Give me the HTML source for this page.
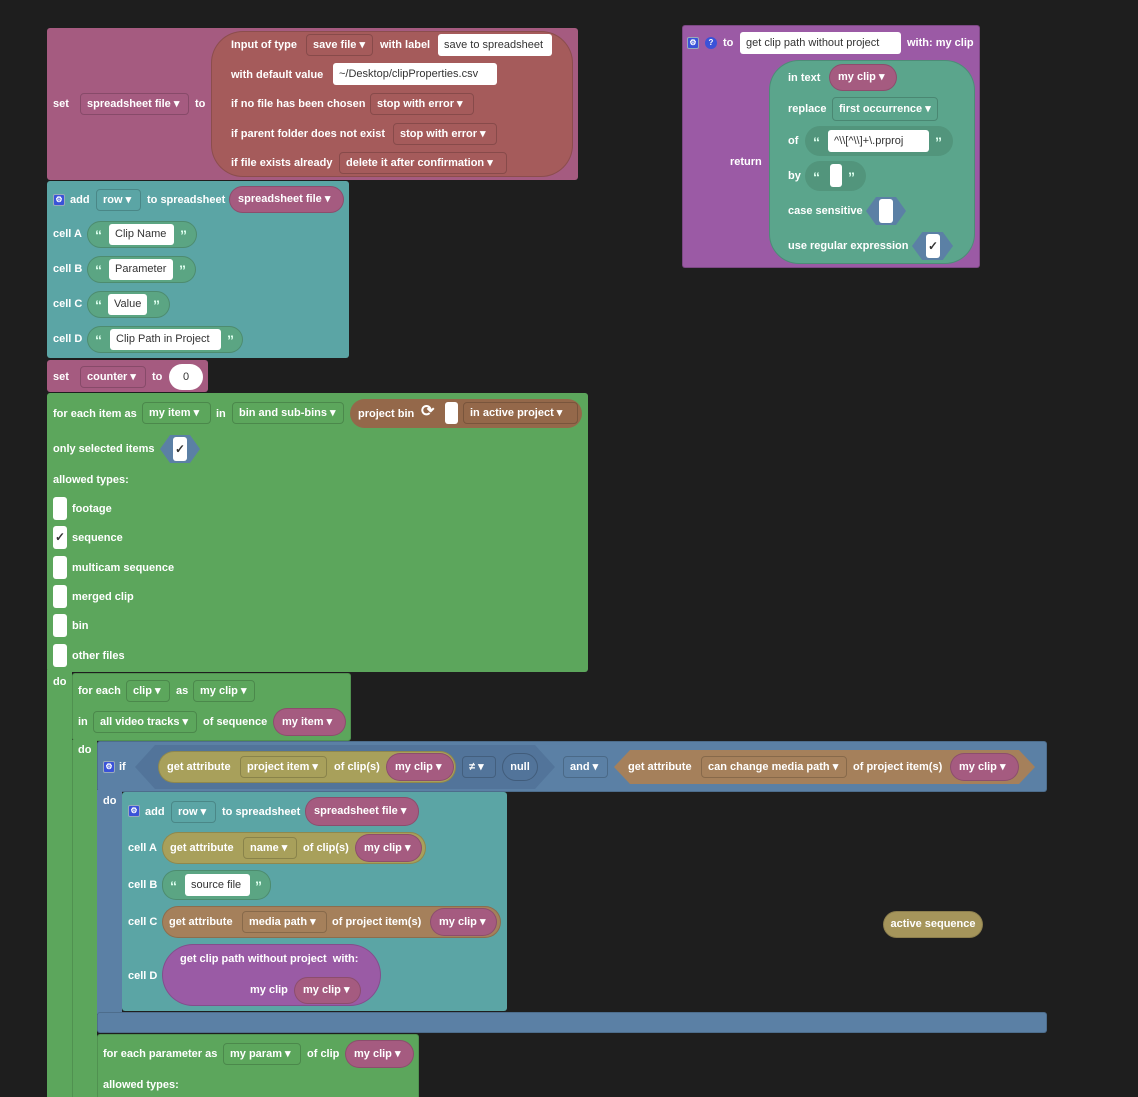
<!DOCTYPE html>
<html style="overflow:hidden;height:1097px"><head><meta charset="utf-8"><style>
body{margin:0;width:1138px;height:1097px;background:#1e1e1e;overflow:hidden;position:relative;font-family:"Liberation Sans",sans-serif;font-weight:bold;font-size:11px;color:#fff}
div{position:absolute;box-sizing:border-box}
.t{line-height:14px;white-space:nowrap}
.q{line-height:14px;font-size:14px;color:#dfe}
.dd{border:1px solid rgba(0,0,0,.18);border-radius:4px;line-height:20px;padding-left:6px;white-space:nowrap}
.wb{background:#fff;color:#333;font-weight:normal;border-radius:3px;line-height:22px;padding-left:6px;white-space:nowrap}
.pk{background:#a55b80;border:1px solid rgba(0,0,0,.15);border-radius:14px;padding-left:8px;white-space:nowrap}
.sg{background:#5ba583;border:1px solid rgba(0,0,0,.15);border-radius:14px}
.gear{width:12px;height:12px;background:#3a52d8;border-radius:2px;border:1px solid #9ab;font-size:8px;text-align:center;line-height:10px}
.cb{background:#fff;border-radius:3px;color:#333;text-align:center;font-size:12px}
</style></head><body>

<!-- set spreadsheet file -->
<div style="left:47px;top:28px;width:531px;height:152px;background:#a55b80;border-radius:3px"></div>
<div style="left:211px;top:31px;width:362px;height:146px;background:#a55b5b;border:1px solid rgba(0,0,0,.15);border-radius:32px"></div>
<div class="t" style="left:53px;top:97px">set</div>
<div class="dd" style="left:80px;top:93px;width:109px;height:22px">spreadsheet file ▾</div>
<div class="t" style="left:195px;top:97px">to</div>
<div class="t" style="left:231px;top:38px">Input of type</div>
<div class="dd" style="left:306px;top:34px;width:67px;height:22px">save file ▾</div>
<div class="t" style="left:380px;top:38px">with label</div>
<div class="wb" style="left:438px;top:34px;width:114px;height:22px">save to spreadsheet</div>
<div class="t" style="left:231px;top:68px">with default value</div>
<div class="wb" style="left:333px;top:63px;width:164px;height:22px">~/Desktop/clipProperties.csv</div>
<div class="t" style="left:231px;top:97px">if no file has been chosen</div>
<div class="dd" style="left:370px;top:93px;width:104px;height:22px">stop with error ▾</div>
<div class="t" style="left:231px;top:127px">if parent folder does not exist</div>
<div class="dd" style="left:393px;top:123px;width:104px;height:22px">stop with error ▾</div>
<div class="t" style="left:231px;top:156px">if file exists already</div>
<div class="dd" style="left:339px;top:152px;width:168px;height:22px">delete it after confirmation ▾</div>

<!-- add row -->
<div style="left:47px;top:181px;width:302px;height:177px;background:#5ba5a5;border-radius:3px"></div>
<div class="gear" style="left:53px;top:194px">⚙</div>
<div class="t" style="left:70px;top:193px">add</div>
<div class="dd" style="left:96px;top:189px;width:45px;height:22px">row ▾</div>
<div class="t" style="left:147px;top:193px">to spreadsheet</div>
<div class="pk" style="left:229px;top:186px;width:115px;height:27px;line-height:25px">spreadsheet file ▾</div>
<div class="t" style="left:53px;top:227px">cell A</div>
<div class="sg" style="left:87px;top:221px;width:110px;height:27px"></div>
<div class="q" style="left:95px;top:228px">“</div><div class="wb" style="left:109px;top:224px;width:65px;height:21px;line-height:21px">Clip Name</div><div class="q" style="left:180px;top:228px">”</div>
<div class="t" style="left:53px;top:262px">cell B</div>
<div class="sg" style="left:87px;top:256px;width:109px;height:27px"></div>
<div class="q" style="left:95px;top:263px">“</div><div class="wb" style="left:109px;top:259px;width:64px;height:21px;line-height:21px">Parameter</div><div class="q" style="left:179px;top:263px">”</div>
<div class="t" style="left:53px;top:297px">cell C</div>
<div class="sg" style="left:87px;top:291px;width:83px;height:27px"></div>
<div class="q" style="left:95px;top:298px">“</div><div class="wb" style="left:108px;top:294px;width:39px;height:21px;line-height:21px">Value</div><div class="q" style="left:153px;top:298px">”</div>
<div class="t" style="left:53px;top:332px">cell D</div>
<div class="sg" style="left:87px;top:326px;width:156px;height:27px"></div>
<div class="q" style="left:95px;top:333px">“</div><div class="wb" style="left:110px;top:329px;width:111px;height:21px;line-height:21px">Clip Path in Project</div><div class="q" style="left:227px;top:333px">”</div>

<!-- set counter -->
<div style="left:47px;top:360px;width:161px;height:32px;background:#a55b80;border-radius:3px"></div>
<div class="t" style="left:53px;top:370px">set</div>
<div class="dd" style="left:80px;top:366px;width:66px;height:22px">counter ▾</div>
<div class="t" style="left:152px;top:370px">to</div>
<div style="left:169px;top:364px;width:34px;height:26px;background:#fff;border-radius:13px;color:#333;text-align:center;line-height:26px;font-weight:normal">0</div>

<!-- for each item -->
<div style="left:47px;top:393px;width:541px;height:279px;background:#5ca65c;border-radius:3px"></div>
<div style="left:47px;top:670px;width:25px;height:427px;background:#5ca65c"></div>
<div class="t" style="left:53px;top:407px">for each item as</div>
<div class="dd" style="left:142px;top:402px;width:69px;height:22px">my item ▾</div>
<div class="t" style="left:216px;top:407px">in</div>
<div class="dd" style="left:232px;top:402px;width:112px;height:22px">bin and sub-bins ▾</div>
<div style="left:350px;top:399px;width:232px;height:29px;background:#94684a;border-radius:15px"></div>
<div class="t" style="left:358px;top:407px">project bin</div>
<div class="t" style="left:421px;top:403px;font-size:16px;line-height:18px">⟳</div>
<div class="cb" style="left:445px;top:402px;width:13px;height:22px"></div>
<div class="dd" style="left:463px;top:402px;width:115px;height:22px">in active project ▾</div>
<div class="t" style="left:53px;top:442px">only selected items</div>
<div style="left:160px;top:435px;width:40px;height:28px;background:#5b80a5;clip-path:polygon(25% 0,75% 0,100% 50%,75% 100%,25% 100%,0 50%)"></div>
<div class="cb" style="left:173px;top:437px;width:14px;height:24px;line-height:24px">✓</div>
<div class="t" style="left:53px;top:473px">allowed types:</div>
<div class="cb" style="left:53px;top:497px;width:14px;height:23px"></div><div class="t" style="left:72px;top:502px">footage</div>
<div class="cb" style="left:53px;top:526px;width:14px;height:23px;line-height:23px">✓</div><div class="t" style="left:72px;top:531px">sequence</div>
<div class="cb" style="left:53px;top:556px;width:14px;height:23px"></div><div class="t" style="left:72px;top:561px">multicam sequence</div>
<div class="cb" style="left:53px;top:585px;width:14px;height:23px"></div><div class="t" style="left:72px;top:590px">merged clip</div>
<div class="cb" style="left:53px;top:614px;width:14px;height:23px"></div><div class="t" style="left:72px;top:619px">bin</div>
<div class="cb" style="left:53px;top:644px;width:14px;height:23px"></div><div class="t" style="left:72px;top:649px">other files</div>
<div class="t" style="left:53px;top:675px">do</div>

<!-- for each clip -->
<div style="left:72px;top:673px;width:279px;height:68px;background:#5ca65c;border:1px solid rgba(0,0,0,.12);border-radius:3px"></div>
<div style="left:72px;top:740px;width:25px;height:357px;background:#5ca65c;border-left:1px solid rgba(0,0,0,.12)"></div>
<div class="t" style="left:78px;top:684px">for each</div>
<div class="dd" style="left:126px;top:680px;width:44px;height:22px">clip ▾</div>
<div class="t" style="left:176px;top:684px">as</div>
<div class="dd" style="left:193px;top:680px;width:62px;height:22px">my clip ▾</div>
<div class="t" style="left:78px;top:715px">in</div>
<div class="dd" style="left:93px;top:711px;width:104px;height:22px">all video tracks ▾</div>
<div class="t" style="left:203px;top:715px">of sequence</div>
<div class="pk" style="left:273px;top:708px;width:73px;height:28px;line-height:26px">my item ▾</div>
<div class="t" style="left:78px;top:743px">do</div>

<!-- if block -->
<div style="left:97px;top:741px;width:950px;height:51px;background:#5b80a5;border:1px solid rgba(0,0,0,.15);border-radius:3px"></div>
<div style="left:97px;top:790px;width:25px;height:224px;background:#5b80a5"></div>
<div style="left:97px;top:1012px;width:950px;height:21px;background:#5b80a5;border:1px solid rgba(0,0,0,.15);border-radius:3px"></div>
<div class="gear" style="left:103px;top:761px">⚙</div>
<div class="t" style="left:119px;top:760px">if</div>
<div style="left:135px;top:745px;width:420px;height:44px;background:#52749a;clip-path:polygon(20px 0,400px 0,420px 50%,400px 100%,20px 100%,0 50%)"></div>
<div style="left:158px;top:751px;width:298px;height:32px;background:#a8a05b;border:1px solid rgba(0,0,0,.15);border-radius:16px"></div>
<div class="t" style="left:167px;top:760px">get attribute</div>
<div class="dd" style="left:240px;top:756px;width:87px;height:22px">project item ▾</div>
<div class="t" style="left:334px;top:760px">of clip(s)</div>
<div class="pk" style="left:386px;top:753px;width:68px;height:28px;line-height:26px">my clip ▾</div>
<div class="dd" style="left:462px;top:756px;width:34px;height:22px">≠ ▾</div>
<div style="left:502px;top:753px;width:36px;height:28px;border:1px solid rgba(0,0,0,.2);border-radius:14px;text-align:center;line-height:26px">null</div>
<div class="dd" style="left:563px;top:756px;width:45px;height:22px">and ▾</div>
<div style="left:614px;top:750px;width:421px;height:34px;background:#a5805b;clip-path:polygon(16px 0,405px 0,421px 50%,405px 100%,16px 100%,0 50%)"></div>
<div class="t" style="left:628px;top:760px">get attribute</div>
<div class="dd" style="left:701px;top:756px;width:146px;height:22px">can change media path ▾</div>
<div class="t" style="left:853px;top:760px">of project item(s)</div>
<div class="pk" style="left:950px;top:753px;width:69px;height:28px;line-height:26px">my clip ▾</div>
<div class="t" style="left:103px;top:794px">do</div>

<!-- inner add row -->
<div style="left:122px;top:792px;width:385px;height:219px;background:#5ba5a5;border-radius:3px"></div>
<div class="gear" style="left:128px;top:805px">⚙</div>
<div class="t" style="left:145px;top:805px">add</div>
<div class="dd" style="left:171px;top:801px;width:45px;height:22px">row ▾</div>
<div class="t" style="left:222px;top:805px">to spreadsheet</div>
<div class="pk" style="left:305px;top:797px;width:114px;height:29px;line-height:27px">spreadsheet file ▾</div>
<div class="t" style="left:128px;top:841px">cell A</div>
<div style="left:162px;top:832px;width:264px;height:32px;background:#a8a05b;border:1px solid rgba(0,0,0,.15);border-radius:16px"></div>
<div class="t" style="left:170px;top:841px">get attribute</div>
<div class="dd" style="left:243px;top:837px;width:54px;height:22px">name ▾</div>
<div class="t" style="left:303px;top:841px">of clip(s)</div>
<div class="pk" style="left:355px;top:834px;width:67px;height:28px;line-height:26px">my clip ▾</div>
<div class="t" style="left:128px;top:878px">cell B</div>
<div class="sg" style="left:162px;top:870px;width:109px;height:30px"></div>
<div class="q" style="left:170px;top:879px">“</div><div class="wb" style="left:185px;top:874px;width:65px;height:22px">source file</div><div class="q" style="left:255px;top:879px">”</div>
<div class="t" style="left:128px;top:915px">cell C</div>
<div style="left:162px;top:906px;width:339px;height:32px;background:#a5805b;border:1px solid rgba(0,0,0,.15);border-radius:16px"></div>
<div class="t" style="left:169px;top:915px">get attribute</div>
<div class="dd" style="left:242px;top:911px;width:85px;height:22px">media path ▾</div>
<div class="t" style="left:332px;top:915px">of project item(s)</div>
<div class="pk" style="left:430px;top:908px;width:67px;height:28px;line-height:26px">my clip ▾</div>
<div class="t" style="left:128px;top:969px">cell D</div>
<div style="left:162px;top:944px;width:219px;height:62px;background:#9a5ba5;border:1px solid rgba(0,0,0,.15);border-radius:31px"></div>
<div class="t" style="left:180px;top:952px">get clip path without project&nbsp; with:</div>
<div class="t" style="left:250px;top:983px">my clip</div>
<div class="pk" style="left:294px;top:977px;width:67px;height:27px;line-height:25px">my clip ▾</div>

<!-- for each parameter -->
<div style="left:97px;top:1034px;width:322px;height:63px;background:#5ca65c;border:1px solid rgba(0,0,0,.12);border-bottom:none;border-radius:3px 3px 0 0"></div>
<div class="t" style="left:103px;top:1047px">for each parameter as</div>
<div class="dd" style="left:223px;top:1043px;width:78px;height:22px">my param ▾</div>
<div class="t" style="left:307px;top:1047px">of clip</div>
<div class="pk" style="left:345px;top:1040px;width:69px;height:28px;line-height:26px">my clip ▾</div>
<div class="t" style="left:103px;top:1078px">allowed types:</div>

<!-- function block -->
<div style="left:682px;top:25px;width:298px;height:243px;background:#9b5aa5;border:1px solid rgba(0,0,0,.2);border-radius:3px"></div>
<div class="gear" style="left:687px;top:37px">⚙</div>
<div style="left:705px;top:37px;width:12px;height:12px;border-radius:6px;background:#3a52d8;font-size:8px;text-align:center;line-height:12px">?</div>
<div class="t" style="left:723px;top:36px">to</div>
<div class="wb" style="left:740px;top:32px;width:161px;height:22px">get clip path without project</div>
<div class="t" style="left:907px;top:36px">with: my clip</div>
<div class="t" style="left:730px;top:155px">return</div>
<div style="left:769px;top:60px;width:206px;height:204px;background:#5ba58c;border:1px solid rgba(0,0,0,.15);border-radius:30px"></div>
<div class="t" style="left:788px;top:71px">in text</div>
<div class="pk" style="left:829px;top:64px;width:68px;height:27px;line-height:25px">my clip ▾</div>
<div class="t" style="left:788px;top:102px">replace</div>
<div class="dd" style="left:832px;top:97px;width:106px;height:24px;line-height:22px">first occurrence ▾</div>
<div class="t" style="left:788px;top:134px">of</div>
<div style="left:805px;top:126px;width:148px;height:30px;background:#52957c;border-radius:15px"></div>
<div class="q" style="left:813px;top:135px">“</div><div class="wb" style="left:828px;top:130px;width:101px;height:22px">^\\[^\\]+\.prproj</div><div class="q" style="left:935px;top:135px">”</div>
<div class="t" style="left:788px;top:169px">by</div>
<div style="left:805px;top:161px;width:61px;height:30px;background:#52957c;border-radius:15px"></div>
<div class="q" style="left:813px;top:170px">“</div><div class="cb" style="left:830px;top:164px;width:12px;height:23px"></div><div class="q" style="left:848px;top:170px">”</div>
<div class="t" style="left:788px;top:204px">case sensitive</div>
<div style="left:866px;top:197px;width:40px;height:28px;background:#5b80a5;clip-path:polygon(25% 0,75% 0,100% 50%,75% 100%,25% 100%,0 50%)"></div>
<div class="cb" style="left:879px;top:199px;width:14px;height:24px"></div>
<div class="t" style="left:788px;top:239px">use regular expression</div>
<div style="left:912px;top:232px;width:41px;height:28px;background:#5b80a5;clip-path:polygon(25% 0,75% 0,100% 50%,75% 100%,25% 100%,0 50%)"></div>
<div class="cb" style="left:926px;top:234px;width:14px;height:24px;line-height:24px">✓</div>

<!-- active sequence -->
<div style="left:883px;top:911px;width:100px;height:27px;background:#a5955b;border:1px solid rgba(0,0,0,.15);border-radius:14px;text-align:center;line-height:25px">active sequence</div>
</body></html>
